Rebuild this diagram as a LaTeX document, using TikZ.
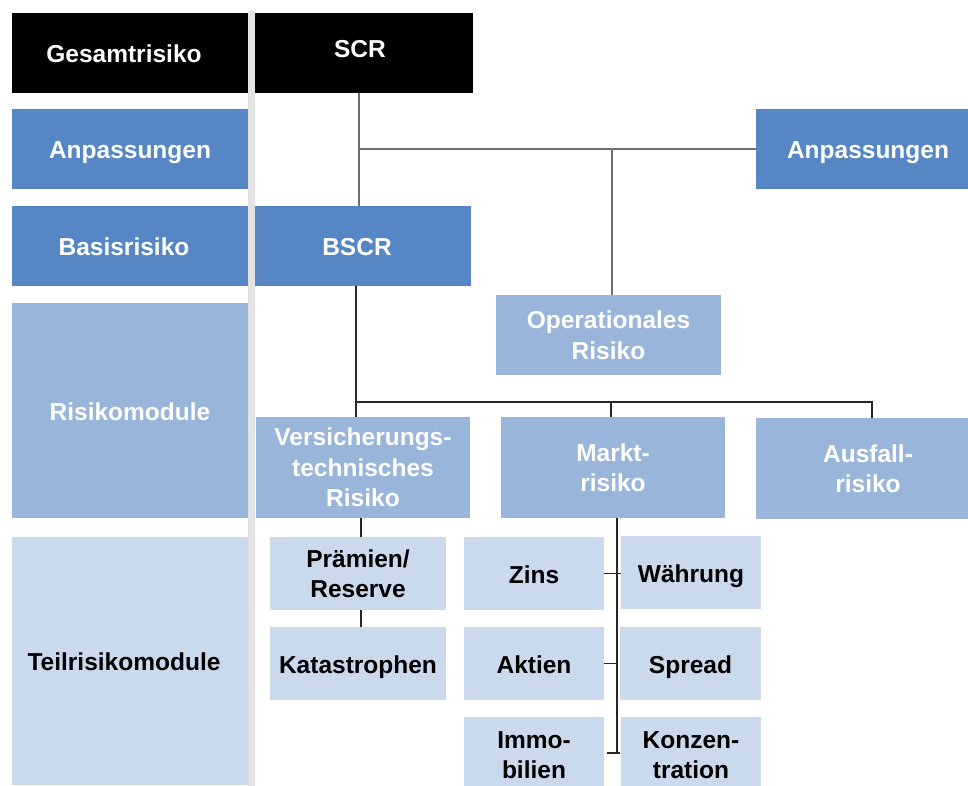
\documentclass[tikz,border=0pt]{standalone}
\usepackage{fontspec}
\setmainfont{Liberation Sans}
\definecolor{cdark}{HTML}{5686C3}
\definecolor{cmid}{HTML}{99B5DA}
\definecolor{clight}{HTML}{CBD9EC}
\definecolor{cbar}{HTML}{E3E3E3}
\definecolor{lgray}{HTML}{6E6E6E}
\definecolor{ldark}{HTML}{262626}
\tikzset{
  box/.style={draw=none, inner sep=0pt, outer sep=0pt, align=center,
    font=\fontsize{24.5}{30.5}\selectfont\bfseries},
  blk/.style={box, fill=black, text=white},
  dk/.style={box, fill=cdark, text=white},
  md/.style={box, fill=cmid, text=white},
  lt/.style={box, fill=clight, text=black},
  one/.style={text height=21pt, text depth=2pt},
  lnk/.style={draw=lgray, line width=1.5pt},
  lnkd/.style={draw=ldark, line width=1.5pt},
}
\newcommand{\myshiftpad}{\hspace*{12pt}}
\newcommand{\bx}[8][]{% options, style, name, x1, y1, x2, y2, text
  \node[#2, minimum width={#6-#4}, minimum height={#7-#5}, #1] (#3) at ({(#4+#6)/2},{(#5+#7)/2}) {#8};}
\begin{document}
\begin{tikzpicture}[x=1pt,y=-1pt]
\useasboundingbox (0,0) rectangle (968,785);
% gray separator bar
\fill[cbar, rounded corners=3pt] (248,10) rectangle (255,790);
% left column
\bx[one]{blk}{l1}{12}{13}{248}{93}{Gesamtrisiko\myshiftpad}
\bx[one]{dk}{l2}{12}{109}{248}{189}{Anpassungen}
\bx[one]{dk}{l3}{12}{206}{248}{286}{Basisrisiko\myshiftpad}
\bx[one]{md}{l4}{12}{303}{248}{518}{Risikomodule}
\bx[one]{lt}{l5}{12}{537}{248}{785}{Teilrisikomodule\myshiftpad}
% main tree
\path[blk] (255,13) rectangle (473,93);
\node[box, one, text=white] (scr) at (360,47.5) {SCR};
\bx[one]{dk}{anpR}{756}{109}{968}{189}{\myshiftpad Anpassungen}
\bx[one]{dk}{bscr}{255}{206}{471}{286}{BSCR\myshiftpad}
\bx{md}{opr}{496}{295}{721}{375}{Operationales\\Risiko}
\bx{md}{vers}{256}{417}{470}{518}{Versicherungs-\\technisches\\Risiko}
\bx{md}{markt}{501}{417}{725}{518}{Markt-\\risiko}
\bx{md}{ausf}{756}{418}{968}{519}{\myshiftpad Ausfall-\\\myshiftpad risiko}
\bx{lt}{praem}{270}{537}{446}{610}{Prämien/\\Reserve}
\bx[one]{lt}{kat}{270}{627}{446}{700}{Katastrophen}
\bx[one]{lt}{zins}{464}{537}{604}{610}{Zins}
\bx[one]{lt}{akt}{464}{627}{604}{700}{Aktien}
\bx{lt}{immo}{464}{717}{604}{793}{Immo-\\bilien}
\bx[one]{lt}{waehr}{621}{536}{761}{609}{Währung}
\bx[one]{lt}{spread}{620}{627}{761}{700}{Spread}
\bx{lt}{konz}{621}{717}{761}{793}{Konzen-\\tration}
% connectors top level
\coordinate (j1) at (359,149);
\coordinate (jo) at (612,149);
\coordinate (ja) at (872,402);
\coordinate (j2) at (356,402);
\coordinate (jm) at (611,402);
\coordinate (jv) at (361,0);
\coordinate (jk) at (617,0);
\draw[lnk] (j1 |- bscr.north) -- (j1 |- 0,93);
\draw[lnk] (j1) -- (anpR.west |- j1);
\draw[lnk] (jo) -- (jo |- opr.north);
% second level
\draw[lnkd] (j2 |- bscr.south) -- (j2 |- vers.north);
\draw[lnkd] (j2) -- (ja) -- (ja |- ausf.north);
\draw[lnkd] (jm) -- (jm |- markt.north);
% versicherung branch
\draw[lnkd] (jv |- vers.south) -- (jv |- praem.north);
\draw[lnkd] (jv |- praem.south) -- (jv |- kat.north);
% markt branch
\coordinate (kb) at (617,753);
\draw[lnkd] (jk |- markt.south) -- (kb);
\draw[lnkd] (zins.east) -- (waehr.west |- zins.east);
\draw[lnkd] (akt.east) -- (jk |- akt.east);
\draw[lnkd] (607,753) -- (kb) -- ++(3,0);
\end{tikzpicture}
\end{document}
